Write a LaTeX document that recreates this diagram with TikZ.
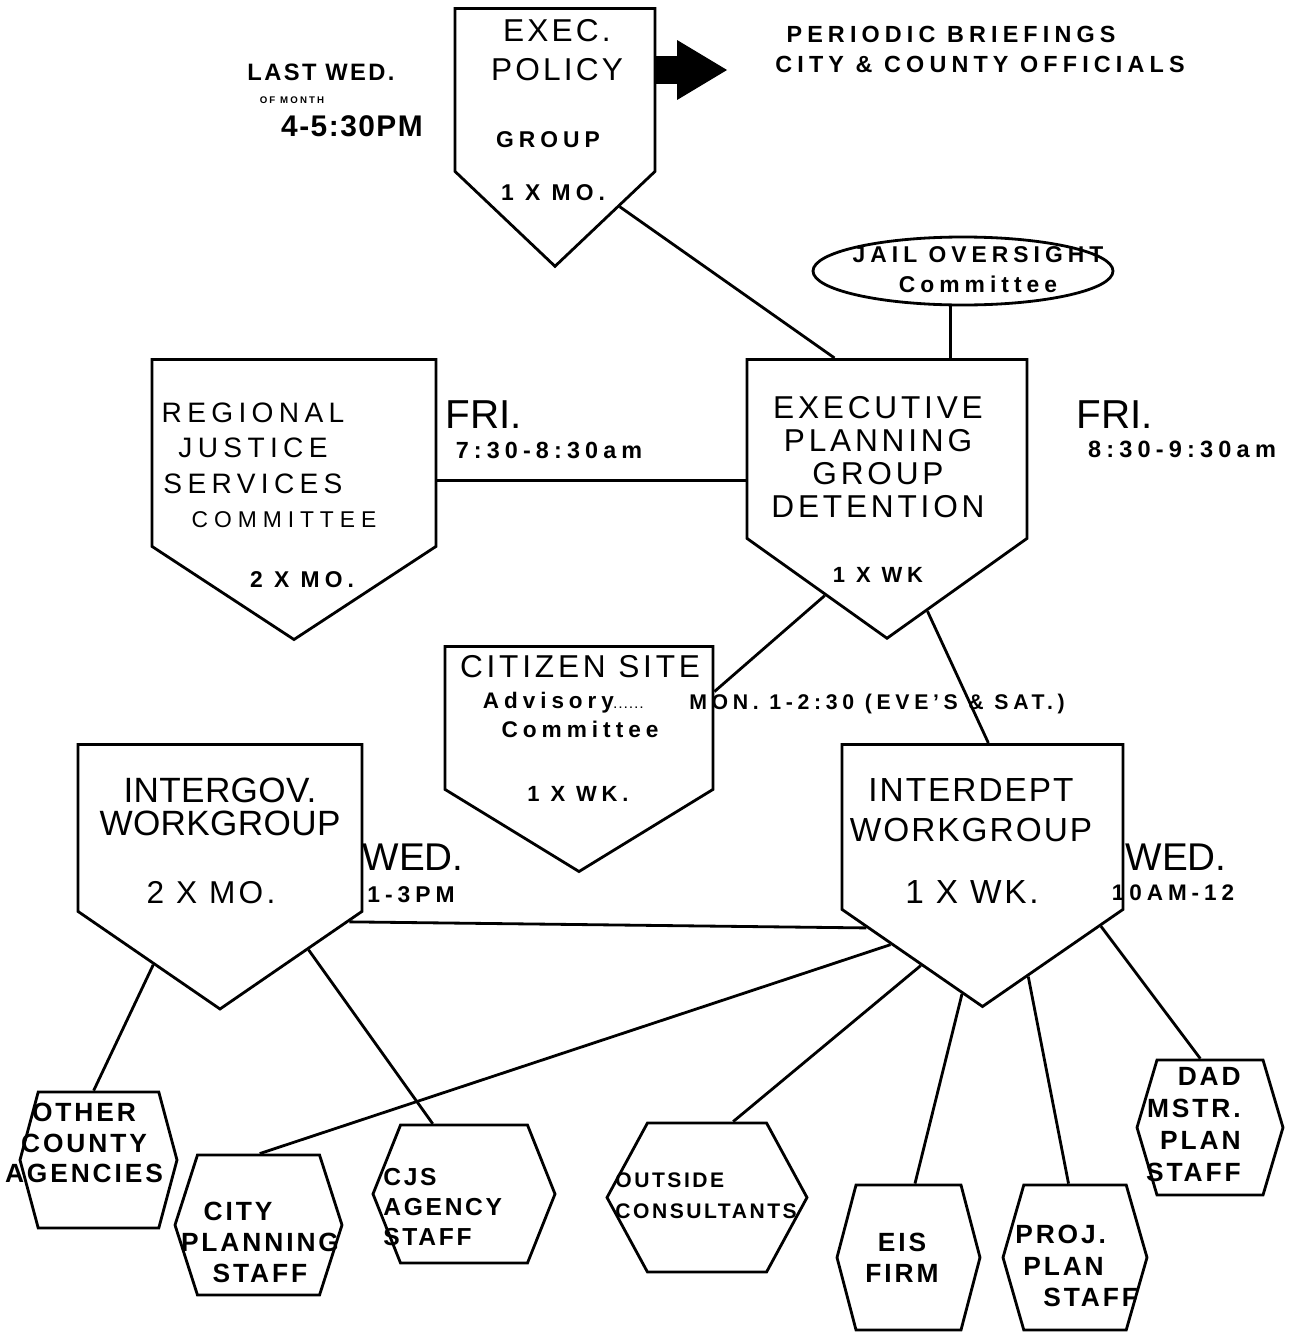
\documentclass[tikz,border=0pt]{standalone}
\usepackage{fontspec}
\setmainfont[LetterSpace=10]{Liberation Sans}
\usetikzlibrary{shapes.symbols,shapes.geometric,arrows.meta}

\newcommand{\bigface}[3]{\fontsize{#1}{#2}\selectfont\addfontfeature{LetterSpace=#3}}
\newcommand{\tagface}[3]{\fontsize{#1}{#2}\bfseries\addfontfeature{LetterSpace=#3}}

\begin{document}
\begin{tikzpicture}[
    x=0.02cm, y=-0.02cm,
    plate/.style={draw, line width=1.6pt, signal, signal to=south, inner sep=0pt, anchor=north},
    hexa/.style={draw, line width=1.6pt, signal, signal to=east and west, inner sep=0pt},
    link/.style={line width=1.6pt},
    bigtext/.style={inner sep=0pt, align=center},
    tagtext/.style={inner sep=0pt, align=center, font=\tagface{13}{16}{22}},
    daytext/.style={inner sep=0pt, font=\bigface{23}{23}{0}}
]
    \def\px{0.02cm}
    \useasboundingbox (0,0) rectangle (1297,1332);

    \node[plate, minimum width=200*\px, minimum height=163*\px, signal pointer angle=93] (epol) at (555,7) {};
    \node[bigtext, font=\bigface{18}{22}{10}] (epoltitle) at (557,50) {EXEC.\\POLICY};
    \node[tagtext] (epolgroup) at (548,140) {GROUP};
    \node[tagtext] (epolfreq) at (553,193) {1 X MO.};
    \node[tagtext, font=\tagface{13.5}{16}{10}] (lastwed) at (321,72) {LAST WED.};
    \node[tagtext, font=\tagface{5.5}{6}{22}] (ofmonth) at (292,100) {OF MONTH};
    \node[tagtext, font=\tagface{17}{20}{5}] (epoltime) at (352,126) {4-5:30PM};

    \coordinate (brieftip) at (727,70);
    \draw[line width=0.56cm, -{Triangle[length=1cm, width=1.2cm, line width=0pt]}]
        (epol.east |- brieftip) -- (brieftip);
    \node[tagtext, font=\tagface{13.3}{16}{22}] (briefings) at (951,34) {PERIODIC BRIEFINGS};
    \node[tagtext, font=\tagface{13.3}{16}{22}] (officials) at (980,64) {CITY \& COUNTY OFFICIALS};

    \node[draw, ellipse, line width=1.6pt, minimum width=300*\px, minimum height=68*\px, inner sep=0pt] (jail) at (963,271) {};
    \node[tagtext, font=\tagface{13}{17}{22}] (jailtext) at (978,270) {JAIL OVERSIGHT\\Committee};

    \node[plate, minimum width=280*\px, minimum height=179*\px, signal pointer angle=109] (epg) at (887,358) {};
    \node[bigtext, font=\bigface{18}{18.8}{12}] (epgtitle) at (878,457) {EXECUTIVE\\PLANNING\\GROUP\\DETENTION};
    \node[tagtext, font=\tagface{12.5}{15}{22}] (epgfreq) at (878,575) {1 X WK};
    \node[daytext] (epgday) at (1115,415) {FRI.};
    \node[tagtext, font=\tagface{13.4}{16}{22}] (epgtime) at (1182,449) {8:30-9:30am};

    \node[plate, minimum width=284*\px, minimum height=187*\px, signal pointer angle=113.5] (rjs) at (294,358) {};
    \node[bigtext, font=\bigface{16}{20.2}{19}] (rjstitle) at (253,448) {REGIONAL\\JUSTICE\\SERVICES};
    \node[bigtext, font=\bigface{13}{15}{26}] (rjscomm) at (284,520) {COMMITTEE};
    \node[tagtext] (rjsfreq) at (302,580) {2 X MO.};
    \node[daytext] (rjsday) at (484,415) {FRI.};
    \node[tagtext, font=\tagface{13.3}{16}{22}] (rjstime) at (549,450) {7:30-8:30am};

    \node[plate, minimum width=268*\px, minimum height=143*\px, signal pointer angle=117] (cit) at (579,645) {};
    \node[bigtext, font=\bigface{18}{20}{12}] (cittitle) at (580,667) {CITIZEN SITE};
    \node[tagtext, font=\tagface{12.8}{15}{22}] (citadv) at (563,703) {Advisory{\fontsize{6}{6}\selectfont......}};
    \node[tagtext, font=\tagface{12.9}{15}{22}] (citcomm) at (580,729) {Committee};
    \node[tagtext, font=\tagface{12.5}{15}{22}] (citfreq) at (578,794) {1 X WK.};
    \node[tagtext, font=\tagface{12.1}{15}{22}] (citmeet) at (877,704) {MON. 1-2:30 (EVE'S \& SAT.)};

    \node[plate, minimum width=284*\px, minimum height=167*\px, signal pointer angle=111] (igw) at (220,743) {};
    \node[bigtext, font=\bigface{20}{18.8}{1}] (igwtitle) at (220,807) {INTERGOV.\\WORKGROUP};
    \node[bigtext, font=\bigface{18}{20}{10}] (igwfreq) at (211,893) {2 X MO.};
    \node[daytext, font=\bigface{22}{22}{0}] (igwday) at (413,857) {WED.};
    \node[tagtext] (igwtime) at (411,895) {1-3PM};

    \node[plate, minimum width=281*\px, minimum height=165*\px, signal pointer angle=110.7] (idw) at (982.5,743) {};
    \node[bigtext, font=\bigface{19}{22.8}{6}] (idwtitle) at (971,810) {INTERDEPT\\WORKGROUP};
    \node[bigtext, font=\bigface{19}{22}{8}] (idwfreq) at (972,892) {1 X WK.};
    \node[daytext, font=\bigface{22}{22}{0}] (idwday) at (1176,857) {WED.};
    \node[tagtext, font=\tagface{12.8}{15}{22}] (idwtime) at (1173,893) {10AM-12};

    \node[hexa, minimum width=157*\px, minimum height=136*\px, signal pointer angle=150] (oca) at (98.5,1160) {};
    \node[hexa, minimum width=167*\px, minimum height=140*\px, signal pointer angle=144.4] (cps) at (258.5,1225) {};
    \node[hexa, minimum width=182*\px, minimum height=138*\px, signal pointer angle=136.5] (cjs) at (464,1194) {};
    \node[hexa, minimum width=200*\px, minimum height=149*\px, signal pointer angle=123] (osc) at (707,1197.5) {};
    \node[hexa, minimum width=143*\px, minimum height=145*\px, signal pointer angle=150.6] (eis) at (908.5,1257.5) {};
    \node[hexa, minimum width=144*\px, minimum height=145*\px, signal pointer angle=148] (proj) at (1075,1257.5) {};
    \node[hexa, minimum width=146*\px, minimum height=135*\px, signal pointer angle=147] (dad) at (1210,1127.5) {};

    \node[tagtext, font=\tagface{15}{17.5}{11}] (ocatext) at (84,1143) {OTHER\\COUNTY\\AGENCIES};
    \node[tagtext, font=\tagface{15}{17.6}{11}] (cpstext) at (260,1242) {\hspace*{-0.88cm}CITY\\PLANNING\\STAFF};
    \node[tagtext, align=left, anchor=west, font=\tagface{14}{17}{11}] (cjstext) at (383,1207) {CJS\\AGENCY\\STAFF};
    \node[tagtext, align=left, anchor=west, font=\tagface{12}{17.6}{12}] (osctext) at (615,1196) {OUTSIDE\\CONSULTANTS};
    \node[tagtext, font=\tagface{15}{17.6}{11}] (eistext) at (902,1258) {EIS\\FIRM};
    \node[tagtext, align=left, anchor=west, font=\tagface{15}{18}{11}] (projtext) at (1015,1266) {PROJ.\\\hspace*{0.16cm}PLAN\\\hspace*{0.56cm}STAFF};
    \node[tagtext, align=right, anchor=east, font=\tagface{15}{18.2}{11}] (dadtext) at (1241,1125) {DAD\\MSTR.\\PLAN\\STAFF};

    \draw[link] (epol.-61.6) -- (epg.120.2);
    \draw[link] (epg.55) -- (epg.55 |- jail.south);
    \draw[link] (rjs.-11.35) -- (rjs.-11.35 -| epg.west);
    \draw[link] (epg.247.9) -- (cit.11.2);
    \draw[link] (epg.-76.2) -- (idw.86.2);
    \draw[link] (igw.-36.6) -- (idw.221.1);
    \draw[link] (igw.244) -- (oca.94.6);
    \draw[link] (igw.-54.1) -- (cjs.114.9);
    \draw[link] (idw.232.7) -- (cps.89);
    \draw[link] (idw.246.3) -- (osc.71.4);
    \draw[link] (idw.263.2) -- (eis.85.7);
    \draw[link] (idw.-73.1) -- (proj.95.7);
    \draw[link] (idw.-40.6) -- (dad.98.4);
\end{tikzpicture}
\end{document}
